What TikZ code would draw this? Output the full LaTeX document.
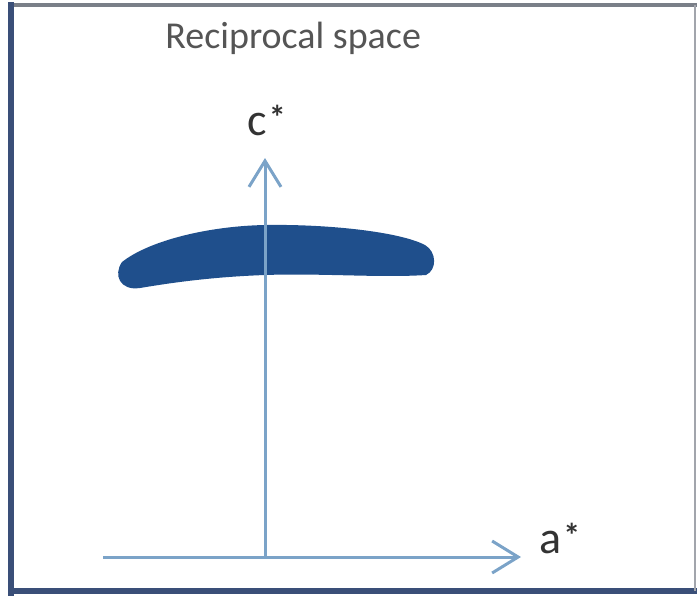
\documentclass[tikz,border=0pt]{standalone}
\usepackage{fontspec}
\setmainfont{Carlito}
\usetikzlibrary{arrows.meta}
\definecolor{axisblue}{HTML}{7BA3C8}
\definecolor{spotblue}{HTML}{1F4F8C}
\definecolor{framedark}{HTML}{3A4F78}
\definecolor{framegray}{HTML}{7A7F88}
\definecolor{textgray}{HTML}{555555}
\newcommand{\upstar}{\kern1pt\raisebox{3pt}{\bfseries\fontsize{17}{17}\selectfont *}}
\begin{document}
\begin{tikzpicture}[x=0.5pt,y=-0.5pt,
    axis/.style={line width=1.5pt, axisblue, -{Straight Barb[length=13pt,width=16pt,line width=1.5pt]}},
    axislabel/.style={anchor=base west, inner sep=0pt, text=black!80, font=\fontsize{23}{27}\selectfont},
    titlelabel/.style={anchor=base west, inner sep=0pt, text=textgray, font=\fontsize{19}{23}\selectfont}]

  % Fix the page size
  \useasboundingbox (0,0) rectangle (697,596);

  % Draw the frame
  \draw[line width=2pt, framegray] (8,5) -- (697,5);
  \draw[line width=3pt, framedark] (11,2) -- (11,596);
  \draw[line width=3pt, framedark] (8,591) -- (697,591);
  \draw[line width=1.2pt, framegray!70] (695,5) -- (695,591);

  % Define the axes
  \coordinate (origin) at (265,557);
  \coordinate (astart) at (103,557);
  \coordinate (aend) at (521,557);
  \coordinate (cend) at (265,158);

  % Fill the diffuse spot
  \fill[spotblue] (122,262) .. controls (150,240) and (210,226) .. (265,225)
    .. controls (330,224) and (400,232) .. (425,245)
    .. controls (437,252) and (437,270) .. (426,275)
    .. controls (380,278) and (320,273) .. (265,275)
    .. controls (210,277) and (170,283) .. (140,288)
    .. controls (120,291) and (113,275) .. (122,262) -- cycle;

  % Draw the axes
  \draw[axis] (astart) -- (aend);
  \draw[axis] (origin) -- (cend);

  % Add labels
  \node[titlelabel] (title) at (165,48) {Reciprocal space};
  \node[axislabel] (cstar) at (247,135) {c\upstar};
  \node[axislabel] (astar) at (539,553) {a\upstar};

\end{tikzpicture}
\end{document}
